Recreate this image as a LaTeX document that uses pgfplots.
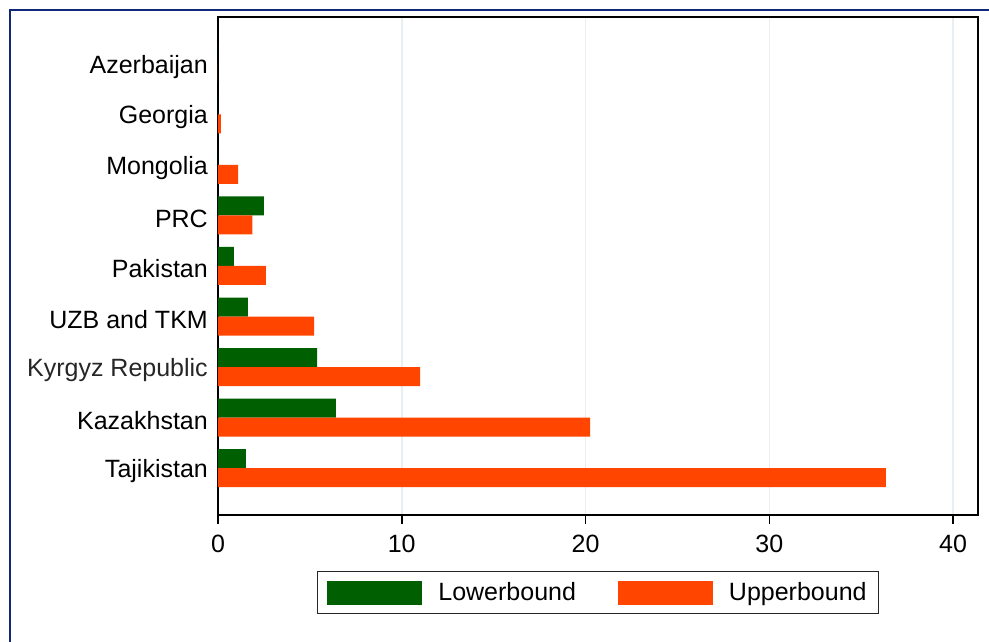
\documentclass[border=0pt]{standalone}
\usepackage{fontspec}
\setmainfont{Liberation Sans}
\usepackage{pgfplots}
\pgfplotsset{compat=1.18}
\definecolor{dkgreen}{RGB}{0,95,0}
\definecolor{orred}{RGB}{255,69,0}
\definecolor{gridc}{RGB}{232,238,241}
\definecolor{frameblue}{RGB}{16,40,120}
\begin{document}
\begin{tikzpicture}[x=1pt,y=1pt]
\useasboundingbox (0,0) rectangle (989,642);
\draw[frameblue, line width=2pt] (10,-20) -- (10,632) -- (1010,632);
\begin{axis}[
  at={(218pt,127pt)}, anchor=south west,
  scale only axis, width=760pt, height=498pt,
  xbar, bar width=19pt,
  xmin=0, xmax=41.36, ymin=0.07, ymax=9.93,
  ytick={1,2,3,4,5,6,7,8,9},
  yticklabels={Tajikistan,Kazakhstan,{\color{black!85}Kyrgyz Republic},UZB and TKM,Pakistan,PRC,Mongolia,Georgia,Azerbaijan},
  xtick={0,10,20,30,40},
  xmajorgrids, major grid style={gridc, line width=1.5pt},
  axis line style={black, line width=1.5pt},
  tick pos=left,
  tick align=outside,
  major tick length=9pt,
  x tick style={black, line width=1.5pt},
  y tick style={draw=none},
  ticklabel style={font=\fontsize{25}{30}\selectfont},
  /pgf/number format/assume math mode=true,
  yticklabel style={inner sep=0pt, xshift=-1pt, yshift=-3pt},
  xticklabel style={inner sep=0pt, yshift=-11pt},
  legend columns=2,
  legend style={at={(0.5,-0.1124)}, anchor=north, draw=black!85, line width=1.2pt,
     font=\fontsize{25}{30}\selectfont, inner xsep=10pt, inner ysep=9pt,
     /tikz/every odd column/.append style={column sep=14pt},
     /tikz/every even column/.append style={column sep=40pt},
     cells={anchor=west}},
  legend image code/.code={\fill[#1] (0pt,-12pt) rectangle (95pt,12pt);},
]
\addplot[fill=dkgreen, draw=none, bar shift=9.5pt] coordinates {
 (1.52,1) (6.42,2) (5.39,3) (1.63,4) (0.87,5) (2.50,6) (0,7) (0,8) (0,9)};
\addlegendentry{Lowerbound}
\addplot[fill=orred, draw=none, bar shift=-9.5pt] coordinates {
 (36.35,1) (20.25,2) (11.00,3) (5.23,4) (2.61,5) (1.87,6) (1.09,7) (0.16,8) (0,9)};
\addlegendentry{Upperbound}
\end{axis}
\end{tikzpicture}
\end{document}
